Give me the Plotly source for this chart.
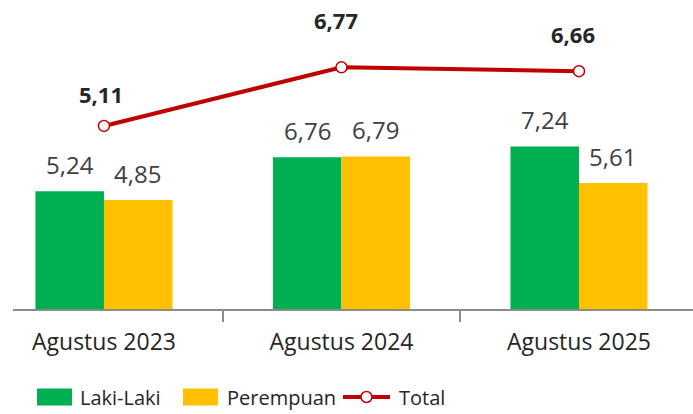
import plotly.graph_objects as go

categories = ["Agustus 2023", "Agustus 2024", "Agustus 2025"]
laki_laki = [5.24, 6.76, 7.24]
perempuan = [4.85, 6.79, 5.61]
total = [5.11, 6.77, 6.66]
series_names = ["Laki-Laki", "Perempuan", "Total"]

GREEN = "#00B050"
YELLOW = "#FFC000"
RED = "#C00000"
TXT = "#404040"
FONT = "Open Sans"

def fmt(v):
    return f"{v:.2f}".replace(".", ",")

fig = go.Figure()
fig.add_trace(go.Bar(x=categories, y=laki_laki, name=series_names[0],
                     marker=dict(color=GREEN, line=dict(width=0)), yaxis="y"))
fig.add_trace(go.Bar(x=categories, y=perempuan, name=series_names[1],
                     marker=dict(color=YELLOW, line=dict(width=0)), yaxis="y"))
fig.add_trace(go.Scatter(x=categories, y=total, name=series_names[2], mode="lines+markers",
                         line=dict(color=RED, width=4),
                         marker=dict(symbol="circle", size=11, color="white",
                                     line=dict(color=RED, width=1.5)),
                         yaxis="y2"))

annotations = []
for c, v in zip(categories, laki_laki):
    annotations.append(dict(x=c, y=v, xref="x", yref="y", text=fmt(v), showarrow=False,
                            xshift=-34, yshift=27, yanchor="middle",
                            font=dict(family=FONT, size=24, color=TXT)))
for c, v in zip(categories, perempuan):
    annotations.append(dict(x=c, y=v, xref="x", yref="y", text=fmt(v), showarrow=False,
                            xshift=34, yshift=27, yanchor="middle",
                            font=dict(family=FONT, size=24, color=TXT)))
total_label_dy = [32, 47, 37]
total_label_dx = [-3, -5, -6]
for c, v, dy, dx in zip(categories, total, total_label_dy, total_label_dx):
    annotations.append(dict(x=c, y=v, xref="x", yref="y2", text=f"<b>{fmt(v)}</b>", showarrow=False,
                            xshift=dx, yshift=dy, yanchor="middle", borderpad=0,
                            font=dict(family=FONT, size=22, color="#262626")))

# plot area in page pixels (body margin removed in the page)
L, T, W, H = 13, 20, 680, 289
def px(x): return (x - L) / W
def py(y): return (T + H - y) / H

shapes = []
ly = 397
shapes.append(dict(type="rect", xref="paper", yref="paper", x0=px(37), x1=px(72),
                   y0=py(ly + 8.5), y1=py(ly - 8.5), fillcolor=GREEN, line=dict(width=0)))
shapes.append(dict(type="rect", xref="paper", yref="paper", x0=px(183), x1=px(218),
                   y0=py(ly + 8.5), y1=py(ly - 8.5), fillcolor=YELLOW, line=dict(width=0)))
shapes.append(dict(type="line", xref="paper", yref="paper", x0=px(343), x1=px(390),
                   y0=py(ly), y1=py(ly), line=dict(color=RED, width=4)))
shapes.append(dict(type="circle", xref="paper", yref="paper", x0=px(361), x1=px(372),
                   y0=py(ly + 5.5), y1=py(ly - 5.5), fillcolor="white",
                   line=dict(color=RED, width=1.5)))
for xt, name in zip([78, 225, 397], series_names):
    annotations.append(dict(x=px(xt), y=py(ly), xref="paper", yref="paper", text=name,
                            showarrow=False, xanchor="left", yanchor="middle",
                            font=dict(family=FONT, size=20, color="#262626")))

FW, FH = 693, 414
fig.update_layout(
    width=FW, height=FH,
    margin=dict(l=L, r=0, t=T, b=FH - T - H, pad=0),
    paper_bgcolor="white", plot_bgcolor="white",
    barmode="group", bargap=0.423, bargroupgap=0,
    showlegend=False, hovermode=False,
    font=dict(family=FONT, color="#262626"),
    xaxis=dict(type="category", range=[-0.383, 2.48], showline=True, linecolor="#8c8c8c",
               linewidth=1.5, ticks="outside", tickson="boundaries", ticklen=11,
               tickcolor="#8c8c8c", tickwidth=1.5, showgrid=False, zeroline=False,
               tickfont=dict(family=FONT, size=23, color="#262626"), ticklabelstandoff=12),
    yaxis=dict(range=[0, 12.87], visible=False, showgrid=False, zeroline=False),
    yaxis2=dict(range=[-0.074, 8.11], overlaying="y", visible=False, showgrid=False,
                zeroline=False),
    shapes=shapes,
    annotations=annotations,
)

fig.write_html("out.html", config={"displayModeBar": False},
               post_script="document.body.style.margin='0';document.body.style.overflow='hidden';")
